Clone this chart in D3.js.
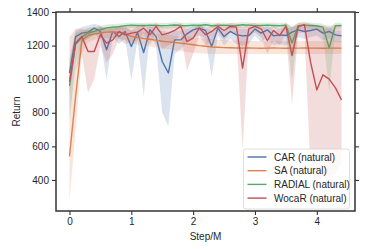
<!DOCTYPE html>
<html lang="en">
<head>
<meta charset="utf-8">
<title>Return vs Step/M</title>
<script src="https://cdn.jsdelivr.net/npm/d3@7"></script>
<style>
  body { margin: 0; background: #fff; }
  text { font-family: "Liberation Sans", Arial, sans-serif; fill: #262626; }
</style>
</head>
<body>
<script>
// training steps (millions)
var steps = d3.range(45).map(function(i) { return i / 10; });

var xTicks = [0, 1, 2, 3, 4];
var yTicks = [400, 600, 800, 1000, 1200, 1400];

var seriesNames = ["CAR (natural)", "SA (natural)", "RADIAL (natural)", "WocaR (natural)"];
var seriesColors = ["#4c72b0", "#dd8452", "#55a868", "#c44e52"];

var carMean = [1036,1254,1274,1280,1304,1284,1175,1284,1254,1284,1195,1278,1159,1294,1254,1105,1037,1234,1234,1270,
               1294,1304,1290,1195,1304,1254,1284,1264,1258,1260,1298,1274,1294,1258,1264,1260,1280,1294,1284,1290,
               1298,1274,1284,1264,1258];
var carLow  = [900,1200,1230,1240,1270,1240,995,1250,1210,1240,995,1230,900,1260,1200,800,720,1150,1180,1220,
               1250,1260,1240,1015,1260,1200,1240,1210,1200,1210,1260,1220,1250,1200,1210,1200,1230,1250,1240,1250,
               1260,1230,1240,1220,1220];
var carHigh = [1120,1290,1310,1320,1330,1320,1290,1320,1300,1310,1290,1310,1290,1320,1300,1290,1280,1290,1290,1300,
               1320,1320,1310,1290,1320,1290,1310,1300,1300,1300,1320,1300,1320,1290,1300,1300,1310,1320,1310,1320,
               1320,1300,1310,1290,1290];

var saMean = [540,900,1230,1260,1270,1275,1280,1282,1278,1270,1255,1248,1242,1238,1232,1226,1222,1218,1214,1210,
              1205,1200,1196,1192,1190,1188,1187,1186,1185,1186,1185,1184,1185,1186,1185,1184,1185,1185,1186,1185,
              1185,1184,1185,1185,1185];
var saLow  = [270,700,1150,1220,1235,1240,1245,1248,1242,1232,1215,1205,1200,1195,1190,1182,1178,1172,1168,1162,
              1158,1155,1152,1150,1150,1150,1150,1150,1150,1150,1150,1150,1150,1150,1150,1150,1150,1150,1150,1150,
              1150,1150,1150,1150,1150];
var saHigh = [800,1050,1280,1300,1305,1310,1312,1315,1312,1305,1292,1288,1282,1278,1272,1268,1264,1260,1256,1254,
              1250,1246,1242,1238,1235,1232,1230,1230,1228,1228,1228,1228,1228,1228,1228,1228,1228,1228,1228,1228,
              1228,1228,1228,1228,1228];

var radMean = [960,1210,1250,1275,1285,1295,1305,1310,1312,1318,1322,1320,1318,1322,1320,1318,1320,1323,1320,1318,
               1322,1320,1324,1318,1320,1322,1318,1320,1324,1322,1318,1320,1322,1320,1318,1322,1216,1318,1322,1320,
               1318,1310,1187,1318,1320];
var radLow  = [750,1100,1210,1245,1260,1270,1285,1292,1295,1300,1305,1302,1300,1305,1302,1300,1302,1305,1302,1300,
               1305,1302,1306,1300,1302,1305,1300,1302,1306,1305,1300,1302,1305,1302,1300,1300,995,1295,1305,1300,
               1295,1270,924,1295,1300];
var radHigh = [1100,1280,1290,1305,1310,1318,1325,1328,1330,1335,1338,1336,1335,1338,1336,1335,1336,1340,1336,1335,
               1338,1336,1340,1335,1336,1338,1335,1336,1340,1338,1335,1336,1338,1336,1335,1338,1310,1336,1338,1336,
               1335,1330,1300,1336,1338];

var wocMean = [986,1216,1254,1165,1165,1264,1215,1234,1284,1264,1274,1280,1304,1264,1314,1264,1274,1290,1314,1224,
               1244,1304,1264,1284,1314,1290,1314,1310,1066,1300,1314,1300,1230,1290,1260,1314,1140,1314,1324,1100,
               936,1026,1000,950,876];
var wocLow  = [800,1050,1150,920,1000,1200,1100,1150,1240,1210,1220,1230,1270,1200,1280,1180,1200,1220,1270,1050,
               1150,1260,1200,1230,1280,1230,1280,1270,580,1250,1280,1250,1150,1230,1200,1270,850,1270,1280,450,
               400,430,420,440,500];
var wocHigh = [1250,1300,1300,1290,1290,1310,1300,1300,1320,1310,1320,1320,1330,1310,1335,1310,1310,1320,1335,1300,
               1300,1330,1300,1320,1335,1320,1335,1330,1310,1330,1335,1320,1300,1320,1300,1335,1310,1335,1340,1330,
               1320,1320,1320,1320,1320];

var series = [
  { mean: carMean, low: carLow, high: carHigh },
  { mean: saMean, low: saLow, high: saHigh },
  { mean: radMean, low: radLow, high: radHigh },
  { mean: wocMean, low: wocLow, high: wocHigh }
];

var width = 374, height = 249;
var margin = { top: 12, right: 19, bottom: 38, left: 56 };
var w = width - margin.left - margin.right;
var h = height - margin.top - margin.bottom;

var x = d3.scaleLinear().domain([-0.218, 4.618]).range([0, w]);
var y = d3.scaleLinear().domain([215, 1400]).range([h, 0]);

var svg = d3.select("body").append("svg")
    .attr("width", width)
    .attr("height", height);

var g = svg.append("g")
    .attr("transform", "translate(" + margin.left + "," + margin.top + ")");

var defs = svg.append("defs");
defs.append("clipPath").attr("id", "plotclip")
  .append("rect").attr("width", w).attr("height", h);

var plot = g.append("g").attr("clip-path", "url(#plotclip)");

var area = d3.area()
    .x(function(d, i) { return x(steps[i]); })
    .y0(function(d) { return y(d[0]); })
    .y1(function(d) { return y(d[1]); });

var line = d3.line()
    .x(function(d, i) { return x(steps[i]); })
    .y(function(d) { return y(d); });

series.forEach(function(s, k) {
  var band = s.low.map(function(v, i) { return [v, s.high[i]]; });
  plot.append("path")
      .attr("d", area(band))
      .attr("fill", seriesColors[k])
      .attr("fill-opacity", 0.2)
      .attr("stroke", "none");
  plot.append("path")
      .attr("d", line(s.mean))
      .attr("fill", "none")
      .attr("stroke", seriesColors[k])
      .attr("stroke-width", 1.4)
      .attr("stroke-linejoin", "round");
});

// axes on all four sides
var tickLen = 4;
var xAxis = d3.axisBottom(x).tickValues(xTicks).tickSize(tickLen).tickPadding(3).tickFormat(d3.format("d"));
var yAxis = d3.axisLeft(y).tickValues(yTicks).tickSize(tickLen).tickPadding(3).tickFormat(d3.format("d"));

var gx = g.append("g").attr("transform", "translate(0," + h + ")").call(xAxis);
var gy = g.append("g").call(yAxis);
var gt = g.append("g").call(d3.axisTop(x).tickValues(xTicks).tickSize(tickLen).tickFormat(""));
var gr = g.append("g").attr("transform", "translate(" + w + ",0)")
    .call(d3.axisRight(y).tickValues(yTicks).tickSize(tickLen).tickFormat(""));

[gx, gy, gt, gr].forEach(function(a) {
  a.select(".domain").remove();
  a.selectAll(".tick line").attr("stroke", "#333").attr("stroke-width", 1.1);
  a.selectAll("text").attr("font-size", "10px").attr("fill", "#262626")
    .attr("font-family", "Liberation Sans, Arial, sans-serif");
});

g.append("rect")
    .attr("width", w).attr("height", h)
    .attr("fill", "none")
    .attr("stroke", "#333")
    .attr("stroke-width", 1.5);

g.append("text")
    .attr("x", w / 2)
    .attr("y", h + 29)
    .attr("text-anchor", "middle")
    .attr("font-size", "10px")
    .text("Step/M");

g.append("text")
    .attr("transform", "translate(-36," + (h / 2) + ") rotate(-90)")
    .attr("text-anchor", "middle")
    .attr("font-size", "10px")
    .text("Return");

// legend
var lg = g.append("g").attr("transform", "translate(" + (243.5 - margin.left) + "," + (149 - margin.top) + ")");
lg.append("rect")
    .attr("width", 106).attr("height", 60)
    .attr("rx", 2.5)
    .attr("fill", "#fff").attr("fill-opacity", 0.8)
    .attr("stroke", "#d6d6d6").attr("stroke-width", 0.8);

seriesNames.forEach(function(name, k) {
  var yy = 8 + k * 13.7;
  lg.append("line")
      .attr("x1", 4).attr("x2", 23)
      .attr("y1", yy).attr("y2", yy)
      .attr("stroke", seriesColors[k]).attr("stroke-width", 1.4);
  lg.append("text")
      .attr("x", 30.5).attr("y", yy + 3.5)
      .attr("font-size", "10px")
      .text(name);
});
</script>
</body>
</html>
